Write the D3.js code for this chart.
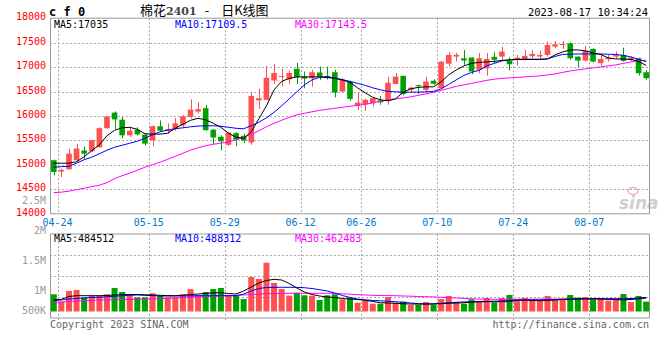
<!DOCTYPE html>
<html><head><meta charset="utf-8">
<script src="https://cdn.jsdelivr.net/npm/d3@7"></script>
<style>body{margin:0;background:#fff}svg{display:block}text{font-family:"DejaVu Sans Mono",monospace}</style>
</head><body><svg id="c" width="660" height="360"></svg>
<script>
const dates = ["04-21","04-24","04-25","04-26","04-27","04-28","05-04","05-05","05-08","05-09","05-10","05-11","05-12","05-15","05-16","05-17","05-18","05-19","05-22","05-23","05-24","05-25","05-26","05-29","05-30","05-31","06-01","06-02","06-05","06-06","06-07","06-08","06-09","06-12","06-13","06-14","06-15","06-16","06-19","06-20","06-21","06-26","06-27","06-28","06-29","06-30","07-03","07-04","07-05","07-06","07-07","07-10","07-11","07-12","07-13","07-14","07-17","07-18","07-19","07-20","07-21","07-24","07-25","07-26","07-27","07-28","07-31","08-01","08-02","08-03","08-04","08-07","08-08","08-09","08-10","08-11","08-14","08-15","08-16"];
const open = [15095,14865,14910,15095,15295,15280,15360,15750,16070,15925,15605,15720,15620,15505,15790,15690,15740,15810,15980,16090,16160,15720,15575,15410,15650,15595,15460,16320,16330,16725,16800,16750,16965,16805,16770,16890,16820,16895,16500,16700,16210,16240,16260,16320,16315,16655,16820,16535,16630,16535,16720,16570,17070,17215,17180,17195,16945,16975,17210,17215,17126,17167,17160,17222,17215,17249,17419,17453,17487,17215,17133,17371,17079,17160,17215,17249,17147,17181,16895];
const close = [14855,14900,15230,15335,15230,15505,15750,15990,15930,15605,15700,15625,15435,15790,15700,15730,15850,15995,16130,16140,15710,15560,15480,15665,15515,15500,16410,16365,16780,16880,16815,16880,16795,16765,16895,16805,16775,16480,16750,16350,16275,16330,16365,16280,16680,16805,16450,16580,16610,16705,16660,17110,17250,17250,17135,16910,17180,17165,17150,17317,17058,17194,17228,17269,17249,17453,17466,17473,17181,17133,17337,17113,17167,17194,17249,17126,17194,16875,16773];
const high = [15110,14925,15330,15430,15375,15515,15770,16000,16095,15980,15755,15770,15635,15810,15910,15850,15960,16020,16340,16280,16225,15735,15605,15680,15670,15635,16485,16555,17020,17065,16965,16930,17085,16910,16945,17010,17010,16945,16775,16720,16480,16350,16380,16410,16800,16880,16830,16600,16640,16800,16750,17125,17305,17290,17350,17200,17285,17285,17305,17419,17201,17249,17351,17351,17337,17521,17535,17535,17507,17220,17432,17385,17249,17262,17317,17398,17215,17190,16943];
const low = [14790,14750,14905,15060,15125,15265,15355,15740,15730,15545,15570,15605,15395,15380,15680,15640,15700,15770,15950,16050,15700,15425,15300,15390,15380,15445,15410,16145,16330,16655,16605,16655,16655,16570,16600,16740,16745,16380,16500,16315,16125,16105,16200,16230,16230,16645,16420,16480,16450,16500,16640,16570,17010,17115,17045,16855,16875,16825,17080,17147,16929,17031,17130,17181,17147,17215,17385,17371,17150,16997,17113,17099,17031,17113,17181,17113,17120,16827,16739];
const ma5 = [15035,15035,15035,15065,15167,15290,15412,15596,15708,15759,15769,15728,15637,15630,15630,15647,15753,15830,15912,15953,15922,15851,15769,15647,15565,15545,15678,15943,16208,16535,16708,16769,16800,16800,16800,16800,16790,16769,16739,16688,16576,16474,16382,16331,16310,16351,16484,16555,16586,16596,16596,16698,16841,16943,17025,17076,17096,17106,17116,17137,17147,17157,17157,17157,17157,17167,17249,17310,17351,17351,17331,17290,17259,17188,17167,17167,17157,17116,17035];
const ma10 = [14953,14963,14973,15035,15106,15157,15228,15300,15361,15402,15443,15484,15545,15616,15677,15712,15739,15759,15779,15794,15800,15800,15790,15769,15749,15739,15800,15871,15963,16075,16208,16351,16494,16637,16739,16790,16800,16780,16739,16708,16667,16627,16576,16535,16504,16494,16488,16488,16488,16494,16504,16555,16647,16739,16831,16892,16933,17025,17076,17127,17147,17157,17161,17161,17161,17167,17218,17259,17263,17269,17269,17269,17269,17263,17259,17239,17208,17157,17109.5];
const ma30 = [14432,14443,14463,14494,14524,14555,14585,14637,14718,14780,14830,14892,14953,15004,15055,15116,15177,15239,15300,15351,15392,15422,15443,15473,15514,15565,15626,15698,15780,15851,15912,15973,16024,16055,16086,16116,16137,16157,16178,16198,16218,16239,16269,16300,16331,16351,16371,16392,16422,16453,16484,16525,16565,16606,16637,16667,16698,16729,16753,16769,16780,16790,16800,16810,16820,16841,16861,16892,16922,16943,16963,16984,17004,17025,17045,17076,17106,17127,17143.5];
const volume = [564,388,643,667,492,524,532,564,714,619,556,492,492,587,524,492,492,564,690,540,619,690,714,548,524,452,976,929,1317,833,690,532,603,540,532,429,540,564,445,484,365,413,341,341,500,365,389,310,318,381,318,452,524,381,341,445,389,476,373,476,548,445,476,445,413,524,445,460,548,484,500,445,476,413,445,571,381,524,389];
const vma5 = [429,445,512,531,531,531,531,536,548,555,560,560,552,548,540,533,531,543,560,571,583,600,602,583,571,643,738,833,893,921,905,821,714,619,560,524,500,488,464,452,440,421,393,364,357,350,340,333,333,333,333,340,350,357,364,376,388,393,400,405,412,429,424,417,412,417,429,440,452,457,460,460,452,445,438,433,440,460,484.512];
const vma10 = [412,429,452,464,476,488,493,505,517,529,540,548,540,533,524,524,524,526,529,531,531,531,531,531,531,571,643,702,726,731,731,731,729,721,702,674,643,595,536,488,452,433,417,410,398,388,374,357,343,333,338,350,364,374,383,388,388,388,388,388,388,421,429,431,433,436,440,443,445,448,452,455,457,457,457,460,464,476,488.312];
const vma30 = [369,381,393,405,412,419,429,431,436,438,443,448,450,452,460,469,479,488,498,505,510,517,524,529,538,548,560,569,576,583,588,588,588,588,588,588,588,586,576,567,557,548,540,536,533,531,524,519,512,507,502,493,483,476,467,457,450,448,446,447,445,446,448,447,449,451,450,452,454,453,455,457,456,458,459,460,461,462,462.483];
const priceTicks = [14000,14500,15000,15500,16000,16500,17000,17500,18000];
const volTickValues = [2500000,2000000,1500000,1000000,500000];
const volTickLabels = ["2.5M","2M","1.5M","1M","500K"];
const volGridValues = [500000,1000000,1500000];
const dateTicks = ["04-24","05-15","05-29","06-12","06-26","07-10","07-24","08-07"];

const svg = d3.select("#c");
const L = 50, R = 650;
const x = d3.scaleBand().domain(dates).range([L, R]);
const cx = d => x(d) + x.bandwidth() / 2;
const y = d3.scaleLinear().domain([14000, 18000]).range([213.8, 18.2]);
const vy = d3.scaleLinear().domain([0, 2000000]).range([318, 234]);
const volBase = 311.5;
const volLabelY = d3.scaleLinear().domain([1000000, 2500000]).range([290.7, 200.3]);
const RED = "#ff5050", GREEN = "#00a000";
const gray = "#999";
const bodyW = 5.6;

// grids
const g = svg.append("g");
g.selectAll(".hg").data(priceTicks.slice(1, -1)).join("line")
  .attr("x1", L).attr("x2", R).attr("y1", d => Math.round(y(d)) + 0.5).attr("y2", d => Math.round(y(d)) + 0.5)
  .attr("stroke", "#aaa").attr("stroke-dasharray", "2,2");
g.selectAll(".vg").data(volGridValues).join("line")
  .attr("x1", L).attr("x2", R).attr("y1", d => Math.round(vy(d)) + 0.5).attr("y2", d => Math.round(vy(d)) + 0.5)
  .attr("stroke", "#aaa").attr("stroke-dasharray", "2,2");
dateTicks.forEach(d => {
  const xx = Math.round(x(d)) + 0.5;
  g.append("line").attr("x1", xx).attr("x2", xx).attr("y1", y(18000)).attr("y2", y(14000))
    .attr("stroke", "#aaa").attr("stroke-dasharray", "2,2");
  g.append("line").attr("x1", xx).attr("x2", xx).attr("y1", vy(2000000)).attr("y2", 322)
    .attr("stroke", "#aaa").attr("stroke-dasharray", "2,2");
});

// sina watermark
svg.append("text").attr("x", 619).attr("y", 209).attr("font-size", 17).attr("font-style", "italic")
  .attr("font-weight", "bold").attr("fill", "#d0d0d0").style("font-family", "DejaVu Sans").text("sina");
svg.append("ellipse").attr("cx", 633).attr("cy", 191).attr("rx", 5).attr("ry", 3.5)
  .attr("fill", "none").attr("stroke", "#f4b0b0").attr("stroke-width", 1.5);

// frames
const fr = svg.append("g").attr("stroke", gray).attr("fill", "none");
fr.append("path").attr("d", `M${L+0.5},${y(18000)}V${y(14000)}H${R-0.5}V${y(18000)}H${L+0.5}`);
fr.append("path").attr("d", `M${L+0.5},${vy(2000000)}V${vy(0)}H${R-0.5}V${vy(2000000)}H${L+0.5}`);

// candles
const cg = svg.append("g");
dates.forEach((d, i) => {
  const up = close[i] >= open[i];
  const col = up ? RED : GREEN;
  const xc = Math.round(cx(d)) + 0.5;
  cg.append("line").attr("x1", xc).attr("x2", xc).attr("y1", y(high[i])).attr("y2", y(low[i])).attr("stroke", col);
  const top = y(Math.max(open[i], close[i])), bot = y(Math.min(open[i], close[i]));
  cg.append("rect").attr("x", cx(d) - bodyW / 2).attr("width", bodyW).attr("y", top)
    .attr("height", Math.max(1, bot - top)).attr("fill", col);
  cg.append("rect").attr("x", cx(d) - 3).attr("width", 6).attr("y", vy(volume[i] * 1000))
    .attr("height", Math.max(0, volBase - vy(volume[i] * 1000))).attr("fill", col);
});

// MA lines
const lineP = d3.line().x((d, i) => cx(dates[i])).y(d => y(d));
const lineV = d3.line().x((d, i) => cx(dates[i])).y(d => vy(d * 1000));
[[ma30, "#ff00ff"], [ma10, "#0000ff"], [ma5, "#000"]].forEach(([a, c]) =>
  svg.append("path").attr("d", lineP(a)).attr("fill", "none").attr("stroke", c).attr("stroke-width", 1));
[[vma30, "#ff00ff"], [vma10, "#0000ff"], [vma5, "#000"]].forEach(([a, c]) =>
  svg.append("path").attr("d", lineV(a)).attr("fill", "none").attr("stroke", c).attr("stroke-width", 1));

// price axis labels
svg.selectAll(".pl").data(priceTicks).join("text")
  .attr("x", 46).attr("y", d => y(d) + 2).attr("text-anchor", "end").attr("font-size", 10).attr("fill", "#f00")
  .text(d => d);
svg.selectAll(".vl").data(volTickValues).join("text")
  .attr("x", 46).attr("y", (d, i) => Math.min(volLabelY(d), 310) + 3.5).attr("text-anchor", "end")
  .attr("font-size", 10).attr("fill", "#999").text((d, i) => volTickLabels[i]);
svg.selectAll(".dl").data(dateTicks).join("text")
  .attr("x", d => x(d)).attr("y", 225.5).attr("text-anchor", "middle").attr("font-size", 10)
  .attr("fill", "#0078c8").text(d => d);

// MA legends
const legend = (yy, items) => items.forEach(([xx, t, c]) =>
  svg.append("text").attr("x", xx).attr("y", yy).attr("font-size", 10).attr("fill", c).text(t));
legend(27.5, [[54, "MA5:" + ma5[ma5.length-1], "#000"], [175, "MA10:" + ma10[ma10.length-1], "#0000ff"], [295, "MA30:" + ma30[ma30.length-1], "#ff00ff"]]);
legend(241.8, [[54, "MA5:" + Math.round(vma5[vma5.length-1]*1000), "#000"], [175, "MA10:" + Math.round(vma10[vma10.length-1]*1000), "#0000ff"], [295, "MA30:" + Math.round(vma30[vma30.length-1]*1000), "#ff00ff"]]);

// header
svg.append("text").attr("x", 49).attr("y", 15.5).attr("font-size", 12).attr("font-weight", "bold")
  .attr("fill", "#000").text("c f 0");
const title = svg.append("text").attr("x", 140).attr("y", 15).attr("font-size", 13)
  .style("font-family", "'Noto Sans CJK SC', sans-serif").attr("fill", "#000");
title.append("tspan").text("棉花");
title.append("tspan").attr("fill", "#444").attr("font-weight", "bold").attr("font-size", 11)
  .style("font-family", "'DejaVu Serif', serif").text("2401");
title.append("tspan").attr("dx", 8).text("-");
title.append("tspan").attr("dx", 12).text("日K线图");
svg.append("text").attr("x", 648).attr("y", 16).attr("font-size", 10.5).attr("text-anchor", "end")
  .attr("fill", "#000").text("2023-08-17 10:34:24");
svg.append("text").attr("x", 50).attr("y", 328).attr("font-size", 10).attr("fill", "#666").text("Copyright 2023 SINA.COM");
svg.append("text").attr("x", 649).attr("y", 328).attr("font-size", 10).attr("text-anchor", "end").attr("fill", "#666").text("http://finance.sina.com.cn");
</script></body></html>
